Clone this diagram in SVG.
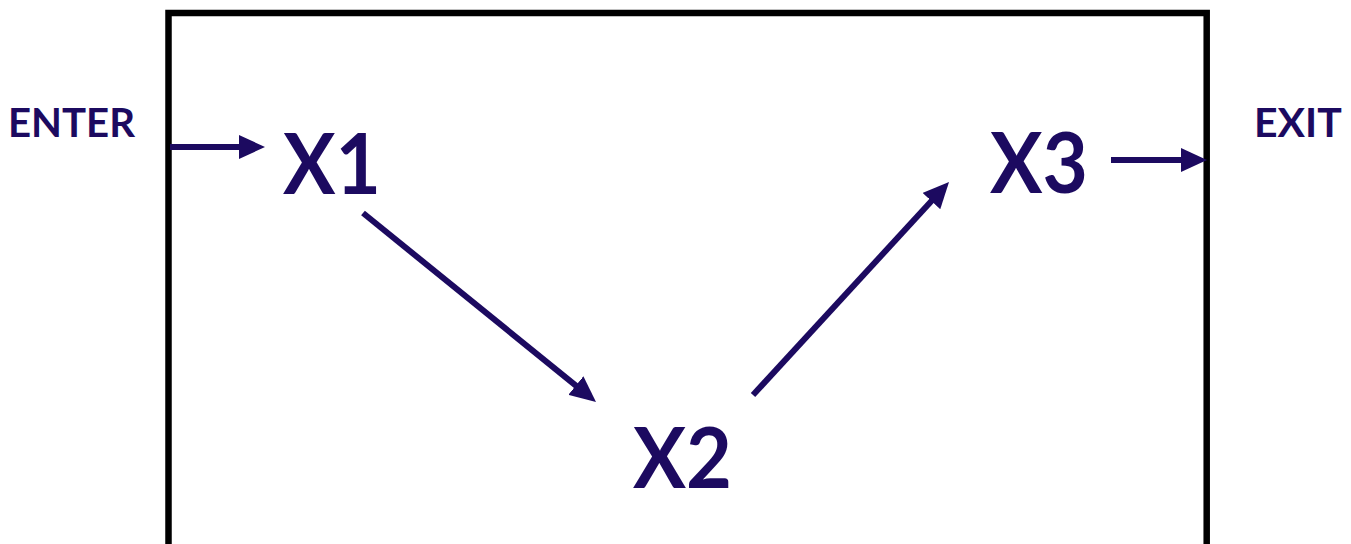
<svg xmlns="http://www.w3.org/2000/svg" width="1351" height="544" viewBox="0 0 1351 544">
<style>
.big{font-family:Lato,"Liberation Sans",sans-serif;font-weight:bold;font-size:84px;fill:#1c0a60}
.small{font-family:Lato,"Liberation Sans",sans-serif;font-weight:bold;font-size:41px;fill:#1c0a60}
.conn{stroke:#1c0a60;stroke-width:6;fill:none}
</style>
<defs>
<marker id="ah" markerUnits="userSpaceOnUse" markerWidth="26" markerHeight="24" viewBox="0 0 26 24" refX="14" refY="12" orient="auto">
<path d="M0,0 L26,12 L0,24 z" fill="#1c0a60"/>
</marker>
</defs>
<rect x="0" y="0" width="1351" height="544" fill="#fff"/>
<g id="frame">
<path d="M168.5,550 V13 H1206.7 V550" fill="none" stroke="#000" stroke-width="6.5"/>
</g>
<g id="enter"><text class="small" x="8" y="137" textLength="127" lengthAdjust="spacingAndGlyphs">ENTER</text></g>
<g id="exit"><text class="small" x="1254" y="137">EXIT</text></g>
<g id="x1"><text class="big" x="283" y="194" textLength="98" lengthAdjust="spacingAndGlyphs">X1</text></g>
<g id="x2"><text class="big" x="633" y="488" textLength="99" lengthAdjust="spacingAndGlyphs">X2</text></g>
<g id="x3"><text class="big" x="990" y="193" textLength="98" lengthAdjust="spacingAndGlyphs">X3</text></g>
<g id="connectors">
<line class="conn" x1="170" y1="147" x2="253" y2="147" marker-end="url(#ah)"/>
<line class="conn" x1="1111" y1="160" x2="1195" y2="160" marker-end="url(#ah)"/>
<line class="conn" x1="363" y1="213" x2="586.7" y2="394.4" marker-end="url(#ah)"/>
<line class="conn" x1="753" y1="395" x2="940.9" y2="190.8" marker-end="url(#ah)"/>
</g>
</svg>
